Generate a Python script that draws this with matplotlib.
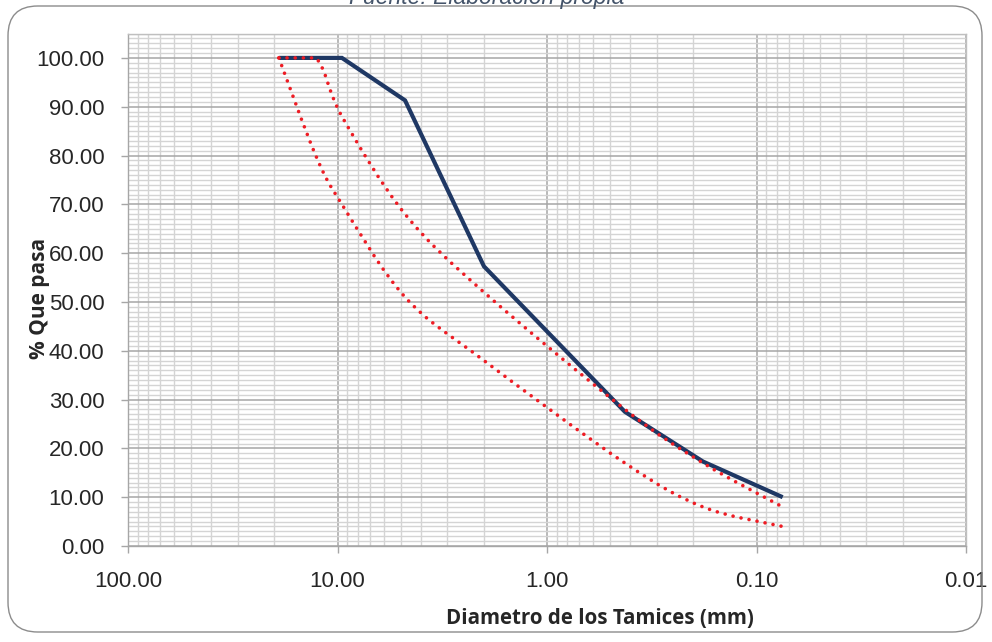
import numpy as np
import matplotlib
matplotlib.use("Agg")
import matplotlib.pyplot as plt
from matplotlib.path import Path
from matplotlib.patches import PathPatch, FancyBboxPatch
from matplotlib.ticker import FixedLocator, FuncFormatter, LogLocator, MultipleLocator, NullFormatter

# ---- data ----
sieve_mm = [19.05, 12.7, 9.525, 4.76, 2.00, 0.425, 0.180, 0.075]
muestra = [100.0, 100.0, 100.0, 91.3, 57.3, 27.5, 17.3, 10.0]
lim_sup = [100.0, 100.0, 88.0, 68.0, 52.0, 28.0, 17.0, 8.0]
lim_inf = [100.0, 80.0, 70.0, 51.0, 38.0, 17.0, 8.0, 4.0]
x_ticks = [100, 10, 1, 0.1, 0.01]
y_ticks = list(range(0, 101, 10))

title_txt = "Fuente: Elaboración propia"
xlabel_txt = "Diametro de los Tamices (mm)"
ylabel_txt = "% Que pasa"

W, H = 992, 642
fig = plt.figure(figsize=(W / 100, H / 100), dpi=100)

# chart border (rounded)
border = FancyBboxPatch((8 / W, 10 / H), (982 - 8) / W, (636 - 10) / H,
                        boxstyle="round,pad=0,rounding_size=0.03",
                        transform=fig.transFigure, fill=False,
                        edgecolor="#8c8c8c", linewidth=1.0, mutation_aspect=W / H)
fig.patches.append(border)

fig.text(487 / W, 1 - 4 / H, title_txt, ha="center", va="baseline",
         fontsize=16.5, style="italic", color="#44546a", family="Liberation Sans")

ax = fig.add_axes([128 / W, 1 - 546 / H, (966 - 128) / W, (546 - 33.5) / H])
ax.set_xscale("log")
ax.set_xlim(100, 0.01)
ax.set_ylim(0, 105)

# grid
ax.xaxis.set_major_locator(FixedLocator(x_ticks))
ax.xaxis.set_minor_locator(LogLocator(base=10, subs=np.arange(2, 10), numticks=20))
ax.xaxis.set_minor_formatter(NullFormatter())
ax.xaxis.set_major_formatter(FuncFormatter(lambda v, p: f"{v:.2f}"))
ax.yaxis.set_major_locator(FixedLocator(y_ticks))
ax.yaxis.set_minor_locator(MultipleLocator(1))
ax.yaxis.set_major_formatter(FuncFormatter(lambda v, p: f"{v:.2f}"))

ax.grid(which="minor", color="#d4d4d4", linewidth=1.0)
ax.grid(which="major", color="#a6a6a6", linewidth=1.1)
ax.set_axisbelow(True)

for s in ["top", "right"]:
    ax.spines[s].set_color("#bfbfbf")
    ax.spines[s].set_linewidth(1.0)
for s in ["left", "bottom"]:
    ax.spines[s].set_color("#a6a6a6")
    ax.spines[s].set_linewidth(1.0)

ax.tick_params(which="major", direction="out", length=5, width=1, color="#a6a6a6",
               labelsize=16, labelcolor="#262626")
ax.tick_params(which="minor", length=0)
ax.tick_params(axis="x", pad=13)
ax.tick_params(axis="y", pad=12)
for lab in ax.get_xticklabels() + ax.get_yticklabels():
    lab.set_family("Liberation Sans")

# sample curve
ax.plot(sieve_mm, muestra, color="#1f3864", linewidth=3.0, solid_joinstyle="miter",
        solid_capstyle="butt", zorder=3)


def smooth_path(xs, ys):
    lx = np.log10(np.asarray(xs, float))
    yy = np.asarray(ys, float)
    P = np.column_stack([lx, yy])
    n = len(P)
    verts = [P[0]]
    codes = [Path.MOVETO]
    for i in range(n - 1):
        p0 = P[i - 1] if i > 0 else P[i]
        p1 = P[i]
        p2 = P[i + 1]
        p3 = P[i + 2] if i + 2 < n else P[i + 1]
        c1 = p1 + (p2 - p0) / 6.0
        c2 = p2 - (p3 - p1) / 6.0
        lo, hi = min(p1[1], p2[1]), max(p1[1], p2[1])
        c1[1] = np.clip(c1[1], lo, hi)
        c2[1] = np.clip(c2[1], lo, hi)
        verts += [c1, c2, p2]
        codes += [Path.CURVE4] * 3
    V = np.array(verts)
    V[:, 0] = 10 ** V[:, 0]
    return Path(V, codes)


for ys in (lim_sup, lim_inf):
    patch = PathPatch(smooth_path(sieve_mm, ys), fill=False, edgecolor="#ee1c24",
                      linewidth=2.6, linestyle=(0, (0.01, 2.25)), capstyle="round",
                      transform=ax.transData, zorder=4)
    ax.add_patch(patch)

ax.set_xlabel(xlabel_txt, fontsize=14.8, fontweight="bold", family="Open Sans",
              color="#262626", va="center")
ax.xaxis.set_label_coords((600 - 128) / (966 - 128), -(618 - 546) / (546 - 33.5))
ax.set_ylabel(ylabel_txt, fontsize=15, fontweight="bold", family="Open Sans",
              color="#262626", va="center")
ax.yaxis.set_label_coords(-(128 - 39) / (966 - 128), (546 - 298) / (546 - 33.5))

fig.savefig("out.png", dpi=100)
